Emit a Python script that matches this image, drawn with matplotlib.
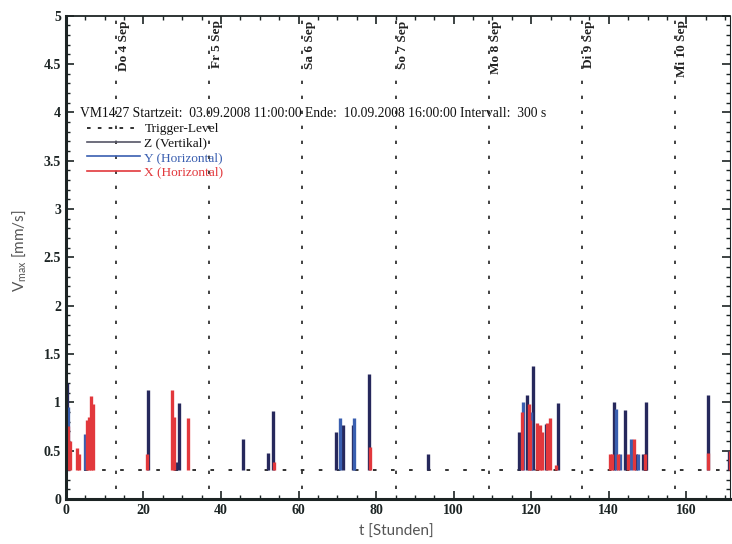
import numpy as np
import matplotlib
matplotlib.use('Agg')
import matplotlib.pyplot as plt
from matplotlib.lines import Line2D
from matplotlib.ticker import MultipleLocator, FuncFormatter

z_t = [0.2, 21.1, 28.5, 29.1, 45.7, 52.1, 53.4, 69.6, 71.4, 74.0, 78.1, 93.3,
       116.8, 118.8, 120.4, 123.7, 126.8, 141.3, 144.1, 146.9, 148.7, 149.6,
       165.7, 171.0]
z_v = [1.2, 1.13, 0.38, 0.99, 0.62, 0.47, 0.91, 0.69, 0.76, 0.76, 1.29, 0.46,
       0.69, 1.08, 1.37, 0.77, 0.99, 1.0, 0.92, 0.46, 0.46, 1.0,
       1.08, 0.5]
y_t = [0.5, 4.9, 70.6, 74.4, 117.8, 120.0, 141.8, 143.0, 145.6, 147.5]
y_v = [0.95, 0.67, 0.84, 0.84, 1.0, 0.9, 0.93, 0.46, 0.62, 0.46]
x_t = [0.0, 0.5, 1.0, 2.8, 3.4, 5.4, 5.9, 6.4, 7.0, 21.0, 27.4, 27.8, 31.4,
       53.6, 78.3, 117.5, 119.3, 119.8, 121.5, 122.2, 122.8, 124.0, 124.8,
       126.5, 140.2, 140.8, 142.3, 145.0, 146.4, 149.3, 165.6, 171.3]
x_v = [0.62, 0.75, 0.6, 0.53, 0.46, 0.82, 0.85, 1.06, 0.98, 0.46, 1.13, 0.85,
       0.84, 0.38, 0.54, 0.9, 0.98, 0.82, 0.78, 0.76, 0.69, 0.78, 0.84,
       0.35, 0.46, 0.46, 0.46, 0.46, 0.62, 0.46, 0.47, 0.5]

trigger = 0.3
day_t = [13, 37, 61, 85, 109, 133, 157]
day_labels = ['Do 4 Sep', 'Fr 5 Sep', 'Sa 6 Sep', 'So 7 Sep',
              'Mo 8 Sep', 'Di 9 Sep', 'Mi 10 Sep']
info = ('VM1427 Startzeit:  03.09.2008 11:00:00 Ende:  10.09.2008 16:00:00 '
        'Intervall:  300 s')

c_z = '#26285c'
c_y = '#3a5fb0'
c_x = '#e2383c'
serif = 'Liberation Serif'

fig = plt.figure(figsize=(7.32, 5.44), dpi=100)
ax = fig.add_axes([0.090, 0.083, 0.907, 0.888])

dots = (0, (2, 7))
for d in day_t:
    ax.plot([d, d], [0.1, 5], color='#222222', lw=1.2, linestyle=dots)
ax.axhline(trigger, color='#222222', lw=1.3, linestyle=(0, (2, 8)))

ax.vlines(z_t, trigger, z_v, color=c_z, lw=2.4)
ax.vlines(y_t, trigger, y_v, color=c_y, lw=2.4)
ax.vlines(x_t, trigger, x_v, color=c_x, lw=2.4)

for d, lab in zip(day_t, day_labels):
    ax.text(d + 2.0, 4.95, lab, rotation=90, ha='center', va='top',
            fontsize=9.5, family=serif, fontweight='bold', color='#222222')

ax.text(3.6, 3.99, info, fontsize=9.8, family=serif, va='center', ha='left',
        color='#111111')

handles = [Line2D([], [], color='#222222', lw=1.3, linestyle=(0, (2, 4))),
           Line2D([], [], color='#555566', lw=1.2),
           Line2D([], [], color=c_y, lw=1.2),
           Line2D([], [], color=c_x, lw=1.2)]
labels = ['Trigger-Level', 'Z (Vertikal)', 'Y (Horizontal)', 'X (Horizontal)']
leg = ax.legend(handles, labels, loc='upper left', bbox_to_anchor=(0.022, 0.792),
                frameon=False, borderpad=0, handlelength=4.0, handletextpad=0.3,
                labelspacing=0.15, prop={'family': serif, 'size': 9.6})
for txt, col in zip(leg.get_texts(), ['#111111', '#111111', c_y, c_x]):
    txt.set_color(col)

ax.set_xlim(0, 171.2)
ax.set_ylim(0, 5)
ax.xaxis.set_major_locator(MultipleLocator(20))
ax.xaxis.set_minor_locator(MultipleLocator(5))
ax.yaxis.set_major_locator(MultipleLocator(0.5))
ax.yaxis.set_minor_locator(MultipleLocator(0.1))
ax.yaxis.set_major_formatter(FuncFormatter(lambda v, p: '%g' % v))
ax.tick_params(which='both', direction='in', top=True, right=True,
               colors='#1c2424', labelsize=10)
ax.tick_params(which='major', length=6, width=1.2)
ax.tick_params(which='minor', length=3, width=1)
for lab in ax.get_xticklabels() + ax.get_yticklabels():
    lab.set_family(serif)
    lab.set_fontweight('bold')

ax.spines['left'].set_linewidth(2.2)
ax.spines['bottom'].set_linewidth(2.2)
ax.spines['top'].set_linewidth(1.3)
ax.spines['right'].set_linewidth(0.8)
for s in ax.spines.values():
    s.set_color('#1c2424')

fig.text(0.541, 0.022, 't [Stunden]', ha='center', va='center',
         fontsize=11, family='Lato', color='#555555')
fig.text(0.027, 0.54, 'V$_\\mathregular{max}$ [mm/s]', ha='center', va='center',
         rotation=90, fontsize=11, family='Lato', color='#555555')

fig.savefig('out.png', dpi=100)
